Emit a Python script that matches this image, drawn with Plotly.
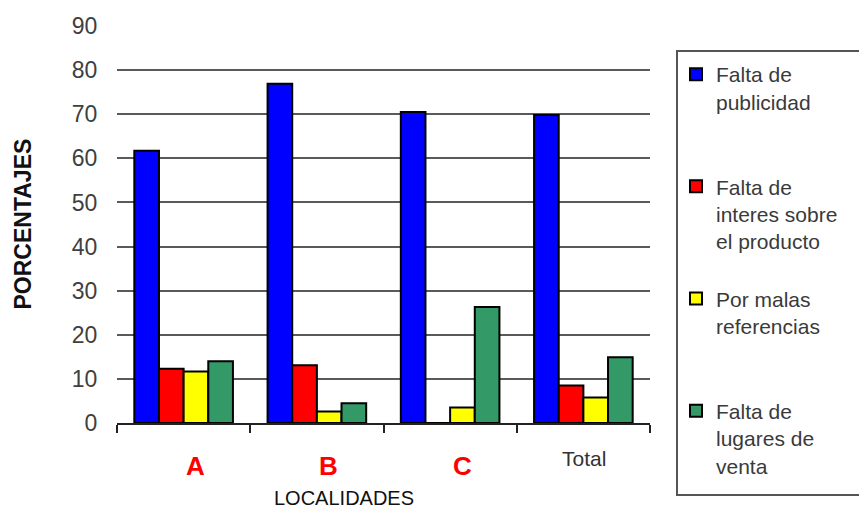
import plotly.graph_objects as go

# Survey results by locality (percentages)
localidades = ["A", "B", "C", "Total"]
falta_publicidad = [61.7, 76.9, 70.5, 69.8]
falta_interes = [12.3, 13.1, 0.0, 8.5]
malas_referencias = [11.7, 2.6, 3.5, 5.8]
falta_lugares = [14.0, 4.5, 26.3, 14.9]

# legend labels, padded with blank lines so entries are evenly spaced
NB = "\u00a0"
series_names = [
    "Falta de<br>publicidad<br>%s<br>%s" % (NB, NB),
    "Falta de<br>interes sobre<br>el producto<br>%s" % NB,
    "Por malas<br>referencias<br>%s<br>%s" % (NB, NB),
    "Falta de<br>lugares de<br>venta",
]
series_values = [falta_publicidad, falta_interes, malas_referencias, falta_lugares]
series_colors = ["#0000FF", "#FF0000", "#FFFF00", "#339966"]

FONT = "Liberation Sans, Arial, sans-serif"
W, H = 859, 509
PLOT_TOP, PLOT_BOTTOM, PLOT_LEFT, PLOT_RIGHT = 26, 423, 117, 650
LEG_LEFT, LEG_TOP, LEG_BOTTOM = 677, 51, 495

fig = go.Figure()
for name, vals, col in zip(series_names, series_values, series_colors):
    fig.add_trace(go.Bar(
        x=localidades, y=vals, name=name,
        marker=dict(color=col, line=dict(color="black", width=2)),
    ))

plot_h = PLOT_BOTTOM - PLOT_TOP
plot_w = PLOT_RIGHT - PLOT_LEFT

fig.update_layout(
    width=W, height=H,
    margin=dict(l=PLOT_LEFT, r=W - PLOT_RIGHT, t=PLOT_TOP, b=H - PLOT_BOTTOM),
    paper_bgcolor="white", plot_bgcolor="white",
    barmode="group", bargap=0.26, bargroupgap=0,
    font=dict(family=FONT, size=21, color="#3a3a3a"),
    showlegend=True,
    legend=dict(
        x=(LEG_LEFT - 1 - PLOT_LEFT) / plot_w, xanchor="left",
        y=(PLOT_BOTTOM - LEG_TOP - 3) / plot_h, yanchor="top",
        bgcolor="rgba(0,0,0,0)", borderwidth=0,
        font=dict(family=FONT, size=21, color="#3a3a3a"),
        valign="top", itemclick=False, tracegroupgap=0,
        maxheight=480,
    ),
    xaxis=dict(
        showgrid=False, showline=True, linecolor="#222222", linewidth=2,
        ticks="outside", tickson="boundaries", ticklen=8, tickwidth=2,
        tickcolor="#222222", showticklabels=False,
    ),
    yaxis=dict(
        range=[0, 90], dtick=10, tick0=0,
        showgrid=True, gridcolor="#5a5a5a", gridwidth=2,
        zeroline=False, showline=False,
        ticks="outside", ticklen=14, tickcolor="rgba(0,0,0,0)",
        tickfont=dict(family=FONT, size=23, color="#404040"),
    ),
)

# legend frame (open on the right, running past the page edge)
fig.add_shape(
    type="rect", xref="paper", yref="paper",
    x0=(LEG_LEFT - PLOT_LEFT) / plot_w, x1=(W + 20 - PLOT_LEFT) / plot_w,
    y0=(PLOT_BOTTOM - LEG_BOTTOM) / plot_h, y1=(PLOT_BOTTOM - LEG_TOP) / plot_h,
    line=dict(color="#555555", width=2), fillcolor="white", layer="below",
)

annotations = []
# category labels under the axis
for cat in localidades:
    if cat == "Total":
        annotations.append(dict(
            x=cat, y=0, xref="x", yref="y", text="Total", showarrow=False,
            xshift=1, yshift=-35, font=dict(family=FONT, size=21, color="#333333"),
        ))
    else:
        annotations.append(dict(
            x=cat, y=0, xref="x", yref="y", text="<b>%s</b>" % cat, showarrow=False,
            xshift=12, yshift=-43, font=dict(family=FONT, size=26, color="#FF0000"),
        ))

# axis titles
annotations.append(dict(
    x=(344 - PLOT_LEFT) / plot_w, y=-(498 - PLOT_BOTTOM) / plot_h,
    xref="paper", yref="paper", xanchor="center", yanchor="middle",
    text="LOCALIDADES", showarrow=False,
    font=dict(family=FONT, size=20, color="#111111"),
))
annotations.append(dict(
    x=-(PLOT_LEFT - 22) / plot_w, y=0.5, xref="paper", yref="paper",
    xanchor="center", yanchor="middle",
    text="<b>PORCENTAJES</b>", showarrow=False, textangle=-90,
    font=dict(family=FONT, size=23, color="#111111"),
))
fig.update_layout(annotations=annotations)

fig.write_html("out.html")
